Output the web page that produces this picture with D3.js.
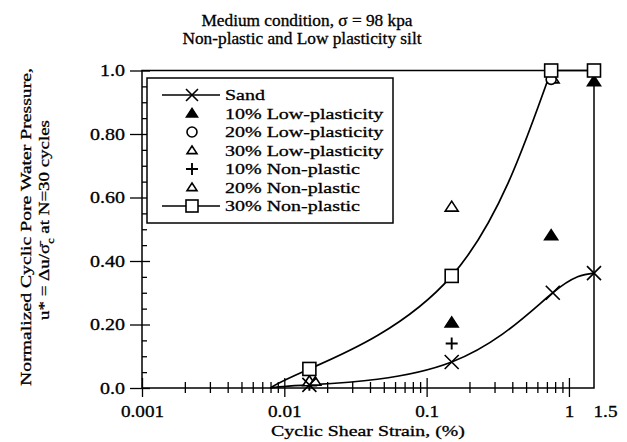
<!DOCTYPE html>
<html>
<head>
<meta charset="utf-8">
<script src="https://cdn.jsdelivr.net/npm/d3@7"></script>
<style>
  html, body { margin: 0; padding: 0; background: #fff; }
  svg { display: block; }
  text { font-family: "Liberation Serif", "Times New Roman", serif; fill: #000; stroke: #000; stroke-width: 0.3px; }
</style>
</head>
<body>
<svg id="chart" width="627" height="442"></svg>
<script>
// Axis ticks
const xTickValues = [0.001, 0.01, 0.1, 1, 1.5];
const xTickLabels = ["0.001", "0.01", "0.1", "1", "1.5"];
const yTickValues = [0, 0.2, 0.4, 0.6, 0.8, 1.0];
const yTickLabels = ["0.0", "0.20", "0.40", "0.60", "0.80", "1.0"];

// Sand: fitted curve starts where it leaves the axis
const sandFitStart = [0.008, 0];
const sandStrain = [0.015, 0.15, 0.77, 1.5];
const sandPore   = [0.01, 0.082, 0.30, 0.362];

// 30% Non-plastic (fitted curve)
const np30FitStart = [0.008, 0];
const np30Strain = [0.015, 0.15, 0.75, 1.5];
const np30Pore   = [0.06, 0.353, 1.0, 1.0];

// Scatter series
const lp10Strain = [0.15, 0.75, 1.5];
const lp10Pore   = [0.205, 0.48, 0.965];
const lp20Strain = [0.75];
const lp20Pore   = [0.972];
const lp30Strain = [0.015, 0.15];
const lp30Pore   = [0.02, 0.57];
const np10Strain = [0.015, 0.15];
const np10Pore   = [0.01, 0.14];
const np20Strain = [0.0165, 0.78];
const np20Pore   = [0.02, 0.972];

const legendNames = ["Sand", "10% Low-plasticity", "20% Low-plasticity", "30% Low-plasticity",
                     "10% Non-plastic", "20% Non-plastic", "30% Non-plastic"];

const svg = d3.select("#chart");
const mLeft = 142, mRight = 594, mTop = 70.5, mBottom = 388;

const x = d3.scaleLog().domain([0.001, 1.5]).range([mLeft, mRight]);
const y = d3.scaleLinear().domain([0, 1]).range([mBottom, mTop]);

// Horizontally widen text to the typeset proportions
function stretch(sel, k) {
  sel.each(function () {
    const w = this.getComputedTextLength();
    this.setAttribute("textLength", (w * k).toFixed(1));
    this.setAttribute("lengthAdjust", "spacingAndGlyphs");
  });
}

// Title
const title = svg.append("g").attr("font-size", 16).attr("text-anchor", "middle");
title.append("text").attr("x", 307).attr("y", 26).text("Medium condition, σ = 98 kpa");
title.append("text").attr("x", 302).attr("y", 44).text("Non-plastic and Low plasticity silt");
stretch(title.selectAll("text"), 1.08);

// Frame
svg.append("rect")
  .attr("x", x(0.001)).attr("y", y(1))
  .attr("width", x(1.5) - x(0.001)).attr("height", y(0) - y(1))
  .attr("fill", "none").attr("stroke", "#000").attr("stroke-width", 1.5);

// Y axis: minor ticks (inward) and major ticks (crossing)
const yMinor = d3.range(0.05, 1.0, 0.05).filter(v => Math.abs(v / 0.2 - Math.round(v / 0.2)) > 1e-6);
const gyMinor = svg.append("g").attr("transform", `translate(${mLeft},0)`)
  .call(d3.axisLeft(y).tickValues(yMinor).tickSize(-5).tickFormat(""));
gyMinor.select(".domain").remove();
gyMinor.selectAll("line").attr("stroke-width", 1.3);

const gy = svg.append("g").attr("transform", `translate(${mLeft},0)`)
  .call(d3.axisLeft(y).tickValues(yTickValues).tickSize(12).tickPadding(5)
    .tickFormat((d, i) => yTickLabels[i]));
gy.select(".domain").remove();
gy.selectAll("line").attr("x1", 8).attr("stroke-width", 1.3);
gy.selectAll("text").attr("font-family", null).attr("font-size", 16).attr("dy", "0.34em");
stretch(gy.selectAll("text"), 1.25);

// X axis: minor ticks at 2..9 of each decade, major ticks at the decades
const xMinor = [];
[0.001, 0.01, 0.1].forEach(dec => { for (let m = 2; m <= 9; m++) xMinor.push(dec * m); });
const gxMinor = svg.append("g").attr("transform", `translate(0,${mBottom})`)
  .call(d3.axisBottom(x).tickValues(xMinor).tickSize(5).tickFormat(""));
gxMinor.select(".domain").remove();
gxMinor.selectAll("line").attr("y1", -6).attr("stroke-width", 1.3);

const gx = svg.append("g").attr("transform", `translate(0,${mBottom})`)
  .call(d3.axisBottom(x).tickValues(xTickValues).tickSize(9)
    .tickFormat((d, i) => xTickLabels[i]));
gx.select(".domain").remove();
gx.selectAll("line").attr("y1", -10).attr("stroke-width", 1.3)
  .filter(d => d === 1.5).remove();
gx.selectAll("text").attr("font-family", null).attr("font-size", 16)
  .attr("y", 29).attr("dy", null)
  .attr("dx", d => d === 1.5 ? 11 : 0);
stretch(gx.selectAll("text"), 1.2);

// Axis titles
const xt = svg.append("text").attr("x", (mLeft + mRight) / 2).attr("y", 436)
  .attr("text-anchor", "middle").attr("font-size", 15.5)
  .text("Cyclic Shear Strain, (%)");
stretch(xt, 1.28);

const yt1 = svg.append("text").attr("transform", "translate(31,227) rotate(-90)")
  .attr("text-anchor", "middle").attr("font-size", 15.5)
  .text("Normalized Cyclic Pore Water Pressure,");
stretch(yt1, 1.27);
const yt2 = svg.append("text").attr("transform", "translate(49,220) rotate(-90)")
  .attr("text-anchor", "middle").attr("font-size", 15.5);
yt2.append("tspan").text("u* = Δu/σ\u0304");
yt2.append("tspan").attr("font-size", 10).attr("dy", 5).text("c");
yt2.append("tspan").attr("dy", -5).text("  at N=30 cycles");
stretch(yt2, 1.22);

// Marker shapes
const plot = svg.append("g");
function drawX(g, cx, cy, s) {
  g.append("path").attr("d", `M${cx - s},${cy - s}L${cx + s},${cy + s}M${cx - s},${cy + s}L${cx + s},${cy - s}`)
    .attr("stroke", "#000").attr("stroke-width", 1.6).attr("fill", "none");
}
function drawPlus(g, cx, cy, s) {
  g.append("path").attr("d", `M${cx - s},${cy}L${cx + s},${cy}M${cx},${cy - s}L${cx},${cy + s}`)
    .attr("stroke", "#000").attr("stroke-width", 1.9).attr("fill", "none");
}
function drawTri(g, cx, cy, s, filled) {
  const h = s * 0.9;
  g.append("path").attr("d", `M${cx},${cy - h}L${cx + s},${cy + h * 0.7}L${cx - s},${cy + h * 0.7}Z`)
    .attr("stroke", "#000").attr("stroke-width", 1.6).attr("stroke-linejoin", "miter")
    .attr("fill", filled ? "#000" : "#fff");
}
function drawCircle(g, cx, cy, r) {
  g.append("circle").attr("cx", cx).attr("cy", cy).attr("r", r)
    .attr("stroke", "#000").attr("stroke-width", 1.6).attr("fill", "#fff");
}
function drawSquare(g, cx, cy, s) {
  g.append("rect").attr("x", cx - s / 2).attr("y", cy - s / 2).attr("width", s).attr("height", s)
    .attr("stroke", "#000").attr("stroke-width", 1.6).attr("fill", "#fff");
}

// Fitted curves
const line = d3.line().x(d => x(d[0])).y(d => y(d[1]));
const sandPts = [sandFitStart].concat(sandStrain.map((s, i) => [s, sandPore[i]]));
plot.append("path").attr("d", line.curve(d3.curveNatural)(sandPts))
  .attr("fill", "none").attr("stroke", "#000").attr("stroke-width", 1.7);

const np30Pts = [np30FitStart].concat(np30Strain.map((s, i) => [s, np30Pore[i]]));
plot.append("path").attr("d", line.curve(d3.curveNatural)(np30Pts.slice(0, 4)))
  .attr("fill", "none").attr("stroke", "#000").attr("stroke-width", 1.7);
plot.append("path").attr("d", line.curve(d3.curveLinear)(np30Pts.slice(3)))
  .attr("fill", "none").attr("stroke", "#000").attr("stroke-width", 1.7);

// Scatter markers
np10Strain.forEach((s, i) => drawPlus(plot, x(s), y(np10Pore[i]), 6));
lp30Strain.forEach((s, i) => drawTri(plot, x(s), y(lp30Pore[i]), 6.5, false));
np20Strain.forEach((s, i) => drawTri(plot, x(s), y(np20Pore[i]), 5.5, false));
lp20Strain.forEach((s, i) => drawCircle(plot, x(s), y(lp20Pore[i]), 5));
lp10Strain.forEach((s, i) => drawTri(plot, x(s), y(lp10Pore[i]), 6.5, true));
sandStrain.forEach((s, i) => drawX(plot, x(s), y(sandPore[i]), 7));
np30Strain.forEach((s, i) => drawSquare(plot, x(s), y(np30Pore[i]), 13));

// Legend
const lg = svg.append("g");
lg.append("rect").attr("x", 147).attr("y", 78).attr("width", 246).attr("height", 145)
  .attr("fill", "#fff").attr("stroke", "#000").attr("stroke-width", 1.5);
const rowY = i => 95 + i * 18.5;
const mx = 192;
legendNames.forEach((name, i) => {
  const cy = rowY(i);
  if (i === 0 || i === 6) {
    lg.append("line").attr("x1", 162).attr("x2", 220).attr("y1", cy).attr("y2", cy)
      .attr("stroke", "#000").attr("stroke-width", 1.5);
  }
  if (i === 0) drawX(lg, mx, cy, 6);
  if (i === 1) drawTri(lg, mx, cy, 5.5, true);
  if (i === 2) drawCircle(lg, mx, cy, 5);
  if (i === 3) drawTri(lg, mx, cy, 5, false);
  if (i === 4) drawPlus(lg, mx, cy, 6);
  if (i === 5) drawTri(lg, mx, cy, 5, false);
  if (i === 6) drawSquare(lg, mx, cy, 12);
});
const lt = lg.selectAll("text.lab").data(legendNames).join("text").attr("class", "lab")
  .attr("x", 225).attr("y", (d, i) => rowY(i) + 5).attr("font-size", 15.5).text(d => d);
stretch(lt, 1.29);
</script>
</body>
</html>
